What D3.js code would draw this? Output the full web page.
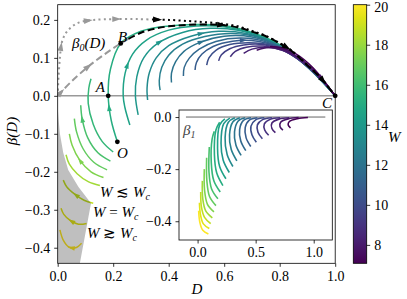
<!DOCTYPE html>
<html>
<head>
<meta charset="utf-8">
<script src="https://cdn.jsdelivr.net/npm/d3@7"></script>
<style>
  body { margin: 0; background: #fff; }
  svg, text { font-family: "Liberation Serif", serif; }
  .it { font-style: italic; }
</style>
</head>
<body>
<svg id="chart" width="407" height="299"></svg>
<script>
// W of every trajectory (yellow -> purple)
var mainW = [20, 19.4, 18.8, 18.2, 17.5, 16.9, 16.3, 15.7, 15.1, 14.5, 13.9,
             13.2, 12.6, 12.0, 11.4, 10.8, 10.2, 9.6, 8.9, 8.3, 7.7, 7.1];

// trajectories in the (D, beta) plane
var mainCurves = [
  [[0.086,-0.388],[0.065,-0.4],[0.04,-0.398],[0.02,-0.38],[0.008,-0.353]],
  [[0.104,-0.336],[0.075,-0.338],[0.045,-0.328],[0.022,-0.312],[0.012,-0.296]],
  [[0.128,-0.283],[0.095,-0.275],[0.06,-0.258],[0.033,-0.24],[0.02,-0.222]],
  [[0.152,-0.236],[0.11,-0.226],[0.07,-0.205],[0.042,-0.18],[0.03,-0.155]],
  [[0.165,-0.215],[0.12,-0.2],[0.08,-0.17],[0.052,-0.13],[0.042,-0.1]],
  [[0.178,-0.195],[0.13,-0.175],[0.092,-0.14],[0.068,-0.095],[0.06,-0.06]],
  [[0.19,-0.172],[0.145,-0.15],[0.108,-0.11],[0.088,-0.06],[0.083,-0.025]],
  [[0.2,-0.148],[0.16,-0.12],[0.128,-0.075],[0.11,-0.02],[0.112,0.02],[0.12,0.045]],
  [[0.215,-0.121],[0.193,-0.065],[0.182,0],[0.19,0.07],[0.227,0.138],[0.3,0.17],[0.4,0.184],[0.5,0.188],[0.6,0.185],[0.7,0.167],[0.8,0.135],[0.9,0.078],[1,0]],
  [[0.26,-0.077],[0.242,-0.03],[0.236,0],[0.243,0.06],[0.27,0.11],[0.32,0.147],[0.4,0.173],[0.5,0.184],[0.6,0.182],[0.7,0.165],[0.8,0.133],[0.9,0.077],[1,0]],
  [[0.29,-0.05],[0.28,0],[0.285,0.05],[0.31,0.1],[0.36,0.138],[0.45,0.167],[0.55,0.178],[0.65,0.173],[0.75,0.15],[0.85,0.106],[0.93,0.055],[1,0]],
  [[0.324,-0.011],[0.322,0.02],[0.33,0.06],[0.355,0.1],[0.4,0.132],[0.48,0.157],[0.58,0.17],[0.68,0.164],[0.78,0.138],[0.88,0.089],[1,0]],
  [[0.369,0.015],[0.366,0.04],[0.375,0.075],[0.4,0.107],[0.45,0.136],[0.53,0.156],[0.63,0.164],[0.73,0.153],[0.83,0.118],[0.92,0.066],[1,0]],
  [[0.41,0.035],[0.41,0.06],[0.425,0.09],[0.455,0.117],[0.51,0.14],[0.6,0.157],[0.7,0.155],[0.8,0.13],[0.9,0.079],[1,0]],
  [[0.453,0.052],[0.456,0.075],[0.475,0.1],[0.51,0.123],[0.57,0.143],[0.66,0.152],[0.76,0.14],[0.86,0.1],[0.94,0.05],[1,0]],
  [[0.495,0.068],[0.5,0.088],[0.52,0.11],[0.56,0.13],[0.63,0.144],[0.72,0.144],[0.81,0.125],[0.89,0.087],[0.95,0.045],[1,0]],
  [[0.537,0.081],[0.545,0.1],[0.57,0.12],[0.62,0.135],[0.69,0.14],[0.77,0.133],[0.86,0.1],[0.93,0.056],[1,0]],
  [[0.58,0.092],[0.59,0.108],[0.62,0.124],[0.67,0.134],[0.74,0.135],[0.82,0.118],[0.89,0.085],[0.95,0.045],[1,0]],
  [[0.622,0.103],[0.64,0.117],[0.68,0.128],[0.74,0.131],[0.81,0.12],[0.87,0.095],[0.93,0.058],[1,0]],
  [[0.67,0.112],[0.7,0.123],[0.75,0.128],[0.81,0.12],[0.87,0.097],[0.93,0.06],[1,0]],
  [[0.717,0.12],[0.76,0.127],[0.81,0.122],[0.87,0.1],[0.93,0.062],[1,0]],
  [[0.765,0.13],[0.81,0.126],[0.86,0.11],[0.92,0.074],[1,0]]
];

// arrow heads on the trajectories: [curve, D, beta]
var mainArrows = [[0,0.048,-0.401],[1,0.05,-0.33],[2,0.071,-0.255],[4,0.086,-0.168],
                  [6,0.09,-0.06],[8,0.184,-0.03],[9,0.257,0.08],[10,0.369,0.14],
                  [11,0.519,0.16],[13,0.52,0.14],[15,0.67,0.145],[20,0.95,0.045]];

// beta_0(D) (grey dashed), separatrix (black dashed), grey / black dotted
var beta0Line = [[0,0],[0.01,0.008],[0.05,0.038],[0.11,0.077],[0.17,0.11],[0.227,0.138],[0.255,0.15]];
var sepLine = [[0.255,0.15],[0.3,0.166],[0.35,0.177],[0.4,0.183],[0.47,0.187],[0.55,0.188],[0.6,0.186],
               [0.65,0.18],[0.7,0.169],[0.75,0.157],[0.8,0.138],[0.84,0.12],[0.9,0.08],[0.95,0.045],[1,0]];
var dotGrey = [[0,0],[0.003,0.05],[0.008,0.1],[0.014,0.138],[0.025,0.16],[0.038,0.173],[0.06,0.187],
               [0.086,0.195],[0.13,0.2],[0.2,0.202],[0.29,0.202],[0.34,0.201]];
var dotBlack = [[0.34,0.201],[0.4,0.2],[0.47,0.197],[0.53,0.194],[0.59,0.19],[0.65,0.183],[0.7,0.171],
                [0.75,0.158],[0.8,0.139],[0.84,0.121],[0.9,0.081],[0.95,0.046],[1,0]];
var greyArrows = [[dotGrey,0.012,0.13],[dotGrey,0.11,0.198],[dotGrey,0.213,0.202],
                  [beta0Line,0.012,0.009],[beta0Line,0.11,0.077]];
var blackArrows = [[dotBlack,0.36,0.2],[sepLine,0.59,0.187],[sepLine,0.825,0.127],[sepLine,0.957,0.04]];

// collapse region
var greyRegion = [[0,-0.03],[0.003,-0.06],[0.008,-0.1],[0.02,-0.15],[0.038,-0.195],[0.075,-0.24],
                  [0.12,-0.283],[0.08,-0.441],[0,-0.441]];

var points = [{n:"A",d:0.182,b:0},{n:"B",d:0.227,b:0.138},{n:"O",d:0.215,b:-0.121},{n:"C",d:1,b:0}];

// inset: beta_1(D)
var insetCurves = [
  [[0.093,-0.449],[0.045,-0.435],[0.02,-0.405],[0.009,-0.36]],
  [[0.101,-0.428],[0.05,-0.41],[0.025,-0.375],[0.016,-0.329]],
  [[0.113,-0.409],[0.06,-0.385],[0.033,-0.345],[0.027,-0.288]],
  [[0.127,-0.387],[0.07,-0.36],[0.045,-0.315],[0.041,-0.245]],
  [[0.141,-0.364],[0.085,-0.335],[0.06,-0.28],[0.058,-0.2]],
  [[0.158,-0.34],[0.103,-0.305],[0.08,-0.245],[0.078,-0.156]],
  [[0.175,-0.314],[0.12,-0.275],[0.098,-0.21],[0.101,-0.115]],
  [[0.195,-0.288],[0.14,-0.245],[0.118,-0.175],[0.125,-0.085],[0.144,-0.055]],
  [[0.218,-0.263],[0.165,-0.215],[0.145,-0.145],[0.158,-0.05],[0.19,-0.02]],
  [[0.244,-0.237],[0.19,-0.19],[0.172,-0.12],[0.19,-0.03],[0.235,-0.007]],
  [[0.273,-0.213],[0.22,-0.165],[0.202,-0.1],[0.225,-0.025],[0.278,-0.004]],
  [[0.304,-0.19],[0.255,-0.145],[0.237,-0.08],[0.265,-0.02],[0.321,-0.003]],
  [[0.338,-0.168],[0.29,-0.125],[0.275,-0.068],[0.305,-0.018],[0.364,-0.003]],
  [[0.375,-0.147],[0.33,-0.107],[0.318,-0.057],[0.35,-0.015],[0.41,-0.003]],
  [[0.415,-0.129],[0.372,-0.092],[0.362,-0.048],[0.395,-0.013],[0.46,-0.003]],
  [[0.458,-0.113],[0.418,-0.08],[0.41,-0.041],[0.445,-0.012],[0.515,-0.003]],
  [[0.506,-0.097],[0.468,-0.068],[0.46,-0.035],[0.5,-0.011],[0.575,-0.003]],
  [[0.558,-0.083],[0.52,-0.058],[0.515,-0.03],[0.56,-0.01],[0.64,-0.003]],
  [[0.612,-0.07],[0.578,-0.05],[0.575,-0.026],[0.625,-0.009],[0.71,-0.003]],
  [[0.67,-0.06],[0.64,-0.044],[0.64,-0.023],[0.7,-0.008],[0.79,-0.003]],
  [[0.735,-0.05],[0.71,-0.037],[0.715,-0.02],[0.78,-0.007],[0.87,-0.002]],
  [[0.8,-0.042],[0.78,-0.03],[0.79,-0.017],[0.86,-0.006],[0.95,-0.002]]
];

var xTicks = [0, 0.2, 0.4, 0.6, 0.8, 1.0];
var yTicks = [-0.4, -0.3, -0.2, -0.1, 0, 0.1, 0.2];
var insetXTicks = [0, 0.5, 1.0];
var insetYTicks = [-0.4, -0.2, 0];
var cbTicks = [8, 10, 12, 14, 16, 18, 20];
var wRange = [7.08, 20];

var FONT = "'Liberation Serif', serif";
var svg = d3.select("#chart");

var x = d3.scaleLinear().domain([0, 1]).range([57.7, 335.2]);
var y = d3.scaleLinear().domain([-0.441, 0.240]).range([263.3, 4.7]);
var color = d3.scaleSequential(d3.interpolateViridis).domain(wRange);

var line = d3.line().x(function (d) { return x(d[0]); }).y(function (d) { return y(d[1]); })
    .curve(d3.curveCatmullRom.alpha(0.5));

svg.append("clipPath").attr("id", "clipMain").append("rect")
    .attr("x", 57.7).attr("y", 4.7).attr("width", 277.5).attr("height", 258.6);

var plot = svg.append("g").attr("clip-path", "url(#clipMain)");

// zero line
plot.append("line")
    .attr("x1", x(0)).attr("x2", x(1)).attr("y1", y(0)).attr("y2", y(0))
    .attr("stroke", "#555").attr("stroke-width", 0.9);

// trajectories
var curvePaths = mainCurves.map(function (c, i) {
    return plot.append("path").attr("d", line(c))
        .attr("fill", "none").attr("stroke", color(mainW[i])).attr("stroke-width", 1.5)
        .node();
});

function arrowAt(g, node, px, py, fill, size) {
    var L = node.getTotalLength(), best = 0, bd = 1e9;
    for (var s = 0; s <= L; s += 0.5) {
        var p = node.getPointAtLength(s);
        var dd = (p.x - px) * (p.x - px) + (p.y - py) * (p.y - py);
        if (dd < bd) { bd = dd; best = s; }
    }
    var a = node.getPointAtLength(Math.max(0, best - 1)),
        b = node.getPointAtLength(Math.min(L, best + 1)),
        c = node.getPointAtLength(best);
    var ang = Math.atan2(b.y - a.y, b.x - a.x) * 180 / Math.PI;
    g.append("path")
        .attr("d", "M" + size + ",0L" + (-size) + "," + (-size * 0.65) + "L" + (-size) + "," + (size * 0.65) + "Z")
        .attr("transform", "translate(" + c.x + "," + c.y + ") rotate(" + ang + ")")
        .attr("fill", fill);
}

mainArrows.forEach(function (a) {
    arrowAt(plot, curvePaths[a[0]], x(a[1]), y(a[2]), color(mainW[a[0]]), 3.6);
});

// collapse region (drawn over the curves, translucent)
plot.append("path")
    .attr("d", d3.line().x(function (d) { return x(d[0]); }).y(function (d) { return y(d[1]); })
        .curve(d3.curveLinear)(greyRegion) + "Z")
    .attr("fill", "rgba(0,0,0,0.25)");

// beta_0 and separatrix lines
var pGrey = plot.append("path").attr("d", line(dotGrey)).attr("fill", "none")
    .attr("stroke", "#999").attr("stroke-width", 2).attr("stroke-dasharray", "2,3.3").node();
var pBlackDot = plot.append("path").attr("d", line(dotBlack)).attr("fill", "none")
    .attr("stroke", "#000").attr("stroke-width", 2).attr("stroke-dasharray", "2,3.3").node();
var pBeta0 = plot.append("path").attr("d", line(beta0Line)).attr("fill", "none")
    .attr("stroke", "#999").attr("stroke-width", 2).attr("stroke-dasharray", "7,3.5").node();
var pSep = plot.append("path").attr("d", line(sepLine)).attr("fill", "none")
    .attr("stroke", "#000").attr("stroke-width", 2).attr("stroke-dasharray", "7,3.5").node();

var nodeOf = function (arr) {
    return arr === dotGrey ? pGrey : arr === beta0Line ? pBeta0 : arr === dotBlack ? pBlackDot : pSep;
};
greyArrows.forEach(function (a) { arrowAt(plot, nodeOf(a[0]), x(a[1]), y(a[2]), "#999", 4.5); });
blackArrows.forEach(function (a) { arrowAt(plot, nodeOf(a[0]), x(a[1]), y(a[2]), "#000", 4.5); });

// labelled points
svg.selectAll(".pt").data(points).enter().append("circle")
    .attr("cx", function (d) { return x(d.d); }).attr("cy", function (d) { return y(d.b); })
    .attr("r", 2.4).attr("fill", "#000");

function label(txt, px, py, size, anchor) {
    return svg.append("text").attr("class", "it").attr("x", px).attr("y", py)
        .style("font-family", FONT).style("font-style", "italic")
        .attr("font-size", size).attr("text-anchor", anchor || "start").text(txt);
}
label("A", 105, 92, 15, "end");
label("B", 118, 42, 15);
label("O", 117, 158, 15);
label("C", 332, 108, 15, "end");

var b0 = label("", 72, 48, 15);
b0.append("tspan").text("β");
b0.append("tspan").attr("font-size", 10).attr("dy", 3).text("0");
b0.append("tspan").attr("dy", -3).text("(D)");

function wLabel(rel, px, py) {
    var t = label("", px, py, 15);
    t.append("tspan").text("W ");
    t.append("tspan").style("font-style", "normal").text(rel);
    t.append("tspan").text(" W");
    t.append("tspan").attr("font-size", 10).attr("dy", 3).text("c");
}
wLabel("≲", 100, 197);
wLabel("=", 93, 217);
wLabel("≳", 87, 238);

// main axes
svg.append("rect").attr("x", 57.7).attr("y", 4.7).attr("width", 277.5).attr("height", 258.6)
    .attr("fill", "none").attr("stroke", "#000").attr("stroke-width", 0.8);

var fmt = d3.format(".1f");
function styleAxis(g) {
    g.attr("font-family", null);
    g.select(".domain").remove();
    g.selectAll("line").attr("stroke", "#000").attr("stroke-width", 0.8);
    g.selectAll("text").style("font-family", FONT).style("font-size", "14px").attr("fill", "#000");
}
styleAxis(svg.append("g").attr("transform", "translate(0,263.3)")
    .call(d3.axisBottom(x).tickValues(xTicks).tickFormat(fmt).tickSize(3.5).tickPadding(4)));
styleAxis(svg.append("g").attr("transform", "translate(57.7,0)")
    .call(d3.axisLeft(y).tickValues(yTicks).tickFormat(fmt).tickSize(3.5).tickPadding(4)));

label("D", 197, 294, 15, "middle");
label("β(D)", 0, 0, 15, "middle").attr("transform", "translate(17,131) rotate(-90)");

// inset
var xi = d3.scaleLinear().domain([-0.16, 1.16]).range([179, 332.3]);
var yi = d3.scaleLinear().domain([-0.472, 0.027]).range([240, 110]);
var lineI = d3.line().x(function (d) { return xi(d[0]); }).y(function (d) { return yi(d[1]); })
    .curve(d3.curveCatmullRom.alpha(0.5));

var inset = svg.append("g");
inset.append("rect").attr("x", 179).attr("y", 110).attr("width", 153.3).attr("height", 130).attr("fill", "#fff");
inset.append("line").attr("x1", xi(-0.1)).attr("x2", xi(1.1)).attr("y1", yi(0)).attr("y2", yi(0))
    .attr("stroke", "#555").attr("stroke-width", 0.9);
insetCurves.forEach(function (c, i) {
    inset.append("path").attr("d", lineI(c)).attr("fill", "none")
        .attr("stroke", color(mainW[i])).attr("stroke-width", 1.6);
});
inset.append("rect").attr("x", 179).attr("y", 110).attr("width", 153.3).attr("height", 130)
    .attr("fill", "none").attr("stroke", "#000").attr("stroke-width", 0.8);
styleAxis(inset.append("g").attr("transform", "translate(0,240)")
    .call(d3.axisBottom(xi).tickValues(insetXTicks).tickFormat(fmt).tickSize(3.5).tickPadding(4)));
styleAxis(inset.append("g").attr("transform", "translate(179,0)")
    .call(d3.axisLeft(yi).tickValues(insetYTicks).tickFormat(fmt).tickSize(3.5).tickPadding(4)));
var b1 = label("", 183, 135, 15).style("fill", "#444");
b1.append("tspan").text("β");
b1.append("tspan").attr("font-size", 10).attr("dy", 3).text("1");

// colorbar
var cy = d3.scaleLinear().domain(wRange).range([263.3, 4.7]);
var grad = svg.append("defs").append("linearGradient").attr("id", "cbGrad")
    .attr("x1", 0).attr("y1", 1).attr("x2", 0).attr("y2", 0);
d3.range(0, 1.0001, 0.05).forEach(function (t) {
    grad.append("stop").attr("offset", t).attr("stop-color", d3.interpolateViridis(t));
});
svg.append("rect").attr("x", 353.3).attr("y", 4.7).attr("width", 13.4).attr("height", 258.6)
    .attr("fill", "url(#cbGrad)").attr("stroke", "#000").attr("stroke-width", 0.8);
var cba = svg.append("g").attr("transform", "translate(366.7,0)")
    .call(d3.axisRight(cy).tickValues(cbTicks).tickFormat(d3.format("d")).tickSize(3.5).tickPadding(4));
styleAxis(cba);
cba.selectAll("text").filter(function (d) { return d === 20; }).attr("dy", "0.45em");
label("W", 388, 142, 15);
</script>
</body>
</html>
